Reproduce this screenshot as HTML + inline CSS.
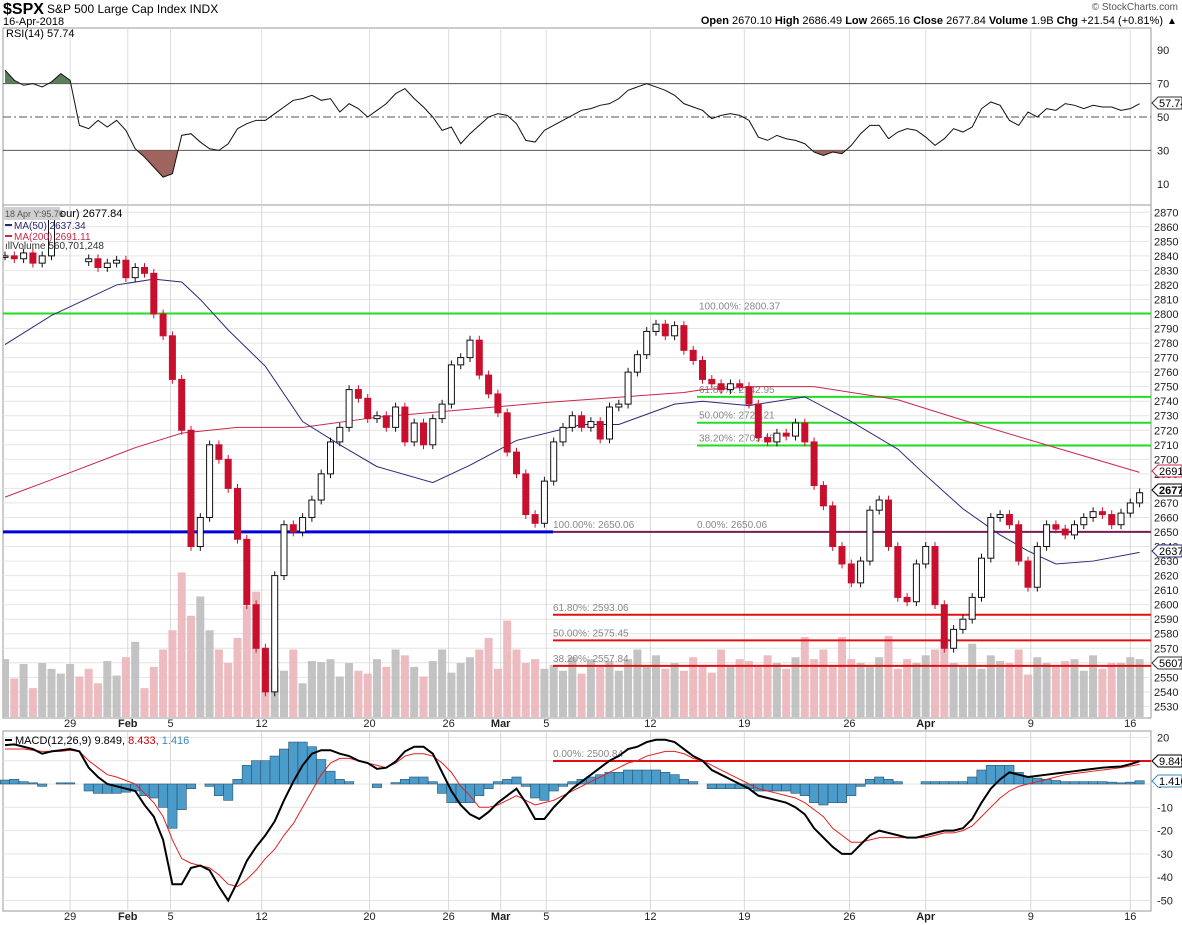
<!DOCTYPE html>
<html><head><meta charset="utf-8"><style>
body{margin:0;background:#fff;}
svg{display:block;font-family:"Liberation Sans",sans-serif;}
</style></head><body>
<svg id="chart" width="1182" height="925" viewBox="0 0 1182 925" xmlns="http://www.w3.org/2000/svg">
<rect x="0" y="0" width="1182" height="925" fill="#fff"/>
<g>
<text x="3" y="14" font-size="16" font-weight="bold" fill="#000">$SPX</text>
<text x="47" y="13" font-size="12" fill="#000">S&amp;P 500 Large Cap Index  INDX</text>
<text x="3" y="25" font-size="11" fill="#000">16-Apr-2018</text>
<text x="1178" y="10" font-size="10" fill="#555" text-anchor="end">© StockCharts.com</text>
<text x="1163" y="24" font-size="11" fill="#000" text-anchor="end"><tspan font-weight="bold">Open</tspan> 2670.10  <tspan font-weight="bold">High</tspan> 2686.49  <tspan font-weight="bold">Low</tspan> 2665.16  <tspan font-weight="bold">Close</tspan> 2677.84  <tspan font-weight="bold">Volume</tspan> 1.9B  <tspan font-weight="bold">Chg</tspan> +21.54 (+0.81%)</text>
<text x="1167" y="24" font-size="10" fill="#000">▲</text>
</g>
<g id="rsi"></g>
<g id="price"></g>
<g id="macd"></g>
<g id="xaxis"></g>
</svg>
<script>
const closes=[2840,2838,2842,2835,2840,2895,2898,2900,2895,2838,2832,2835,2837,2825,2832,2828,2800,2785,2755,2720,2640,2660,2710,2700,2680,2645,2600,2570,2540,2620,2655,2650,2660,2672,2690,2712,2722,2748,2742,2728,2730,2722,2736,2712,2725,2710,2728,2738,2765,2770,2782,2758,2745,2732,2705,2690,2662,2656,2685,2712,2722,2730,2722,2726,2714,2736,2738,2760,2772,2788,2793,2785,2792,2775,2768,2755,2752,2748,2752,2750,2738,2715,2712,2718,2716,2725,2712,2682,2668,2640,2628,2615,2630,2665,2672,2640,2605,2602,2628,2640,2600,2570,2583,2590,2605,2632,2660,2662,2655,2630,2612,2640,2655,2652,2648,2655,2660,2664,2662,2655,2663,2670,2677];
const volumes=[600,400,550,300,560,500,450,550,420,500,350,580,430,620,780,300,520,700,900,1500,1050,1250,900,700,560,820,1150,1300,640,500,480,700,350,580,570,600,420,560,480,450,600,520,700,640,520,420,580,700,460,560,620,700,820,500,1000,700,560,600,500,540,480,620,450,600,520,580,480,600,700,520,640,500,560,480,620,540,460,700,520,600,580,520,640,560,500,620,830,600,700,540,830,600,560,520,620,840,500,600,560,640,700,820,560,520,760,500,640,580,560,700,440,620,560,520,580,600,480,640,500,560,560,620,600];
const ma50Idx=[0,5,12,16,19,21,24,28,32,36,40,46,50,55,62,66,72,75,80,86,91,96,99,103,107,110,113,117,122];
const ma50Val=[2779,2799,2820,2824,2822,2810,2789,2764,2726,2710,2695,2684,2696,2713,2724,2724,2738,2740,2737,2743,2726,2707,2689,2666,2648,2637,2628,2630,2636];
const ma200Idx=[0,5,14,19,25,32,40,58,73,75,81,87,96,103,113,122];
const ma200Val=[2674,2686,2708,2718,2722,2722,2729,2739,2746,2748,2750,2750,2741,2727,2708,2691];
const rsiVals=[78,72,69,70,68,71,76,72,45,43,48,44,48,42,31,26,20,14,16,39,40,35,31,30,34,43,46,48,48,52,56,60,61,63,60,61,53,58,55,50,54,58,64,67,61,56,50,42,44,34,40,45,50,52,51,46,36,35,42,45,48,51,54,55,57,58,61,66,68,70,68,66,63,58,56,54,49,51,52,51,48,38,36,39,37,36,34,29,27,29,28,33,40,45,45,37,41,43,42,38,33,37,43,41,44,55,59,57,48,45,53,50,55,54,58,57,55,57,56,56,54,55,58];
const macdVals=[16.7,17,16,15,13,14,14.5,15,14,7,3,0,-1,-2,-3,-9,-14,-24,-43,-43,-36,-35,-37,-44,-50,-42,-33,-27,-22,-16,-7,1,8,13,14.5,14.5,13,12,10,9,6.5,7,9.6,14,16,16,13,5,-3,-9,-13,-15,-12,-8,-5,-2,-8,-15,-15,-10,-6,-2,1,4,7,10,12,15,16,18,19,19,18,15,12,10,6,4,2,0,-2,-5,-6,-7,-8,-10,-13,-19,-23,-27,-30,-30,-26,-22,-20,-21,-22,-23,-23,-22,-21,-20,-20,-19,-15,-8,-2,2,5,4,3,3.5,4,4.5,5,5.5,6,6.5,7,7.3,7.5,8.5,9.8];
const signalVals=[15,15,15,14.5,14,14,14,14.5,14,10,7,4,3,1.5,0,-4,-8,-14,-24,-32,-34,-35,-36,-39,-43,-44,-41,-37,-32,-28,-22,-17,-10,-3,4,9,11,11,10,9,8,7,9,12,13,13,12,9,5,-1,-5,-10,-10,-9,-7,-5,-7,-9,-8,-7,-5,-3,-1,1,3,5,7,9,10,12,13,14,14,13,11,10,8,6,4,2,0,-2,-3,-4,-5,-6,-8,-11,-14,-19,-22,-25,-25,-24,-23,-23,-23,-23,-23,-23,-22,-21,-21,-20,-18,-14,-10,-6,-3,-1,0,1,2,3,4,4.5,5,5.5,6,6.5,7,7.7,8.4];
const xTickLabels=["29","Feb","5","12","20","26","Mar","5","12","19","26","Apr","9","16"];
const xTickBars=[7.0,13.2,17.8,27.6,39.2,47.7,53.3,58.2,69.4,79.5,90.8,99.0,110.3,121.0];
const xTickBold=[false,true,false,false,false,false,true,false,false,false,false,true,false,false];
const priceTicks=[2870,2860,2850,2840,2830,2820,2810,2800,2790,2780,2770,2760,2750,2740,2730,2720,2710,2700,2690,2680,2670,2660,2650,2640,2630,2620,2610,2600,2590,2580,2570,2560,2550,2540,2530];
const rsiTicks=[90,70,50,30,10];
const macdTicks=[20,10,0,-10,-20,-30,-40,-50];
const greenFibLevels=[2742.95,2725.21,2709.48];
const greenFibLabels=["61.80%: 2742.95","50.00%: 2725.21","38.20%: 2709.48"];
const redFibLevels=[2593.06,2575.45,2557.84];
const redFibLabels=["61.80%: 2593.06","50.00%: 2575.45","38.20%: 2557.84"];

const NS="http://www.w3.org/2000/svg";
const L=3,R=1151;
const bx=i=>5+9.3*i;
const py=p=>532-(p-2650)*1.4533;
const ry=v=>117-(v-50)*1.67;
const my=v=>784-v*2.33;
const vy=v=>717-v*0.0964;
function mk(tag,attrs,parent){const e=document.createElementNS(NS,tag);for(const k in attrs)e.setAttribute(k,attrs[k]);parent.appendChild(e);return e;}
function txt(parent,x,y,s,size,anchor,fill,weight){const t=mk('text',{x:x,y:y,'font-size':size||11,'text-anchor':anchor||'start',fill:fill||'#222'},parent);if(weight)t.setAttribute('font-weight',weight);t.textContent=s;return t;}
const defs=mk('defs',{},document.getElementById('chart'));
const cp=mk('clipPath',{id:'pclip'},defs);mk('rect',{x:L,y:207,width:R-L,height:511},cp);
const ca=mk('clipPath',{id:'above70'},defs);mk('rect',{x:L,y:28,width:R-L,height:ry(70)-28},ca);
const cb=mk('clipPath',{id:'below30'},defs);mk('rect',{x:L,y:ry(30),width:R-L,height:205-ry(30)},cb);

// ---------- RSI ----------
const rsiG=document.getElementById('rsi');
mk('rect',{x:L,y:28,width:R-L,height:177,fill:'#fff',stroke:'#999'},rsiG);
xTickBars.forEach(b=>{const g=mk('line',{x1:bx(b),x2:bx(b),y1:28,y2:205,stroke:'#ddd'},rsiG);});
mk('line',{x1:L,x2:R,y1:ry(70),y2:ry(70),stroke:'#555'},rsiG);
mk('line',{x1:L,x2:R,y1:ry(30),y2:ry(30),stroke:'#555'},rsiG);
mk('line',{x1:L,x2:R,y1:ry(50),y2:ry(50),stroke:'#555','stroke-dasharray':'8,3,2,3'},rsiG);
let rp=rsiVals.map((v,i)=>bx(i)+','+ry(v)).join(' ');
const fa=mk('polygon',{points:bx(0)+','+ry(70)+' '+rp+' '+bx(rsiVals.length-1)+','+ry(70),fill:'#5b7f5b','clip-path':'url(#above70)'},rsiG);

const fb=mk('polygon',{points:bx(0)+','+ry(30)+' '+rp+' '+bx(rsiVals.length-1)+','+ry(30),fill:'#a0645f','clip-path':'url(#below30)'},rsiG);

const rl=mk('polyline',{points:rp,fill:'none',stroke:'#111','stroke-width':1},rsiG);

rsiTicks.forEach(t=>{const e=txt(rsiG,1157,ry(t)+4,String(t),11);});
const rt=txt(rsiG,6,37,'RSI(14) 57.74',11,'start','#000');

// ---------- PRICE ----------
const pG=document.getElementById('price');
mk('rect',{x:L,y:205,width:R-L,height:513,fill:'#fff',stroke:'#999'},pG);
priceTicks.forEach(t=>{mk('line',{x1:L,x2:R,y1:py(t),y2:py(t),stroke:'#e4e4e4'},pG);
 const e=txt(pG,1154,py(t)+4,String(t),11);});
xTickBars.forEach(b=>{const g=mk('line',{x1:bx(b),x2:bx(b),y1:205,y2:718,stroke:'#d8d8d8'},pG);});
const inner=mk('g',{'clip-path':'url(#pclip)'},pG);
volumes.forEach((v,i)=>{const down=i>0&&closes[i]<closes[i-1];
 const r=mk('rect',{x:bx(i)-4,y:vy(v),width:8,height:717-vy(v),fill:down?'#ebb5ba':'#bcbcbc','fill-opacity':0.9},inner);
 });
const l2800=mk('line',{x1:L,x2:R,y1:py(2800.37),y2:py(2800.37),stroke:'#22dd22','stroke-width':2},inner);

greenFibLevels.forEach((lv,k)=>{const e=mk('line',{x1:697,x2:R,y1:py(lv),y2:py(lv),stroke:'#22dd22','stroke-width':2},inner);
 
 const t=txt(inner,699,py(lv)-4,greenFibLabels[k],10,'start','#888');});
const tl=txt(inner,699,py(2800.37)-4,'100.00%: 2800.37',10,'start','#888');
const bl=mk('line',{x1:L,x2:553,y1:py(2650.06),y2:py(2650.06),stroke:'#0000dd','stroke-width':3},inner);

const pl=mk('line',{x1:553,x2:R,y1:py(2650.06),y2:py(2650.06),stroke:'#7a1a5a','stroke-width':2},inner);

let e1=txt(inner,553,py(2650.06)-4,'100.00%: 2650.06',10,'start','#888');
e1=txt(inner,697,py(2650.06)-4,'0.00%: 2650.06',10,'start','#888');
redFibLevels.forEach((lv,k)=>{const e=mk('line',{x1:553,x2:R,y1:py(lv),y2:py(lv),stroke:'#e01010','stroke-width':2},inner);
 
 const t=txt(inner,553,py(lv)-4,redFibLabels[k],10,'start','#888');});
const ma200=mk('polyline',{points:ma200Idx.map((b,k)=>bx(b)+','+py(ma200Val[k])).join(' '),fill:'none',stroke:'#c8284a','stroke-width':1},inner);

const ma50=mk('polyline',{points:ma50Idx.map((b,k)=>bx(b)+','+py(ma50Val[k])).join(' '),fill:'none',stroke:'#2a2a7a','stroke-width':1},inner);

closes.forEach((c,i)=>{let o=i>0?closes[i-1]:c;if(o>2870&&c<2870)o=c-2;const hi=Math.max(o,c)+3,lo=Math.min(o,c)-3;const x=bx(i);
 const down=c<o;
 const w=mk('line',{x1:x,x2:x,y1:py(hi),y2:py(lo),stroke:down?'#c8102e':'#111'},inner);
 
 const top=py(Math.max(o,c)),h=Math.max(1.5,Math.abs(py(o)-py(c)));
 const b=mk('rect',{x:x-3,y:top,width:6,height:h,fill:down?'#c8102e':'#fff',stroke:down?'#c8102e':'#111','stroke-width':1},inner);
 });
const lg=mk('g',{},pG);
mk('rect',{x:3,y:207,width:57,height:13,fill:'#d0d0d0'},lg);
txt(lg,5,217,'18 Apr Y:95.76',9,'start','#555');txt(lg,60,217,'our) 2677.84',11,'start','#000');
mk('line',{x1:5,x2:12,y1:225,y2:225,stroke:'#2a2a7a','stroke-width':2},lg);txt(lg,14,229,'MA(50) 2637.34',10,'start','#2a2a7a');
mk('line',{x1:5,x2:12,y1:236,y2:236,stroke:'#c8284a','stroke-width':2},lg);txt(lg,14,240,'MA(200) 2691.11',10,'start','#c8284a');
txt(lg,5,249,'ıllVolume 560,701,248',10,'start','#333');

// ---------- MACD ----------
const mG=document.getElementById('macd');
mk('rect',{x:L,y:731,width:R-L,height:180,fill:'#fff',stroke:'#999'},mG);
macdTicks.forEach(t=>{mk('line',{x1:L,x2:R,y1:my(t),y2:my(t),stroke:'#e4e4e4'},mG);
 const e=txt(mG,1157,my(t)+4,String(t),11);});
xTickBars.forEach(b=>{const g=mk('line',{x1:bx(b),x2:bx(b),y1:731,y2:911,stroke:'#d8d8d8'},mG);});
macdVals.forEach((m,i)=>{const h=m-signalVals[i];const y0=my(0),y1=my(h);
 const r=mk('rect',{x:bx(i)-4.65,y:Math.min(y0,y1),width:9.3,height:Math.abs(y1-y0),fill:'#4b9ccb',stroke:'#27506a','stroke-width':0.6},mG);
 });
const ml=mk('line',{x1:553,x2:R,y1:761,y2:761,stroke:'#e01010','stroke-width':2},mG);
e1=txt(mG,553,757,'0.00%: 2500.84',10,'start','#888');
const sl=mk('polyline',{points:signalVals.map((v,i)=>bx(i)+','+my(v)).join(' '),fill:'none',stroke:'#e02020','stroke-width':1},mG);

const mline=mk('polyline',{points:macdVals.map((v,i)=>bx(i)+','+my(v)).join(' '),fill:'none',stroke:'#000','stroke-width':2},mG);

const mlg=mk('g',{},mG);
mk('line',{x1:5,x2:12,y1:740,y2:740,stroke:'#000','stroke-width':2},mlg);
const mt=txt(mlg,15,744,'MACD(12,26,9) 9.849, ',11,'start','#000');
const ts1=mk('tspan',{fill:'#c00'},mt);ts1.textContent='8.433, ';const ts2=mk('tspan',{fill:'#3a8ab8'},mt);ts2.textContent='1.416';

// ---------- X axis ----------
const xG=document.getElementById('xaxis');
xTickLabels.forEach((s,k)=>{[727,920].forEach(y=>{const t=txt(xG,bx(xTickBars[k]),y,s,11,'middle','#222',xTickBold[k]?'bold':null);
 });});

// ---------- Right value tags ----------
function tag(y,s,color,bold,name){const g=mk('g',{},document.getElementById('chart'));
 
 mk('path',{d:`M1152 ${y} L1158 ${y-6} L1182 ${y-6} L1182 ${y+6} L1158 ${y+6} Z`,fill:'#fff',stroke:color},g);
 txt(g,1159,y+4,s,11,'start','#000',bold?'bold':null);}
tag(103,'57.74','#333',false,'rsi-value-tag');
tag(471,'2691.1','#c8284a',false,'ma200-value-tag');
tag(490,'2677.','#000',true,'close-value-tag');
tag(551,'2637.','#2a2a7a',false,'ma50-value-tag');
tag(663,'56070','#333',false,'volume-value-tag');
tag(761,'9.849','#000',false,'macd-value-tag');
tag(781,'1.416','#3a8ab8',false,'histogram-value-tag');
</script>
</body></html>
